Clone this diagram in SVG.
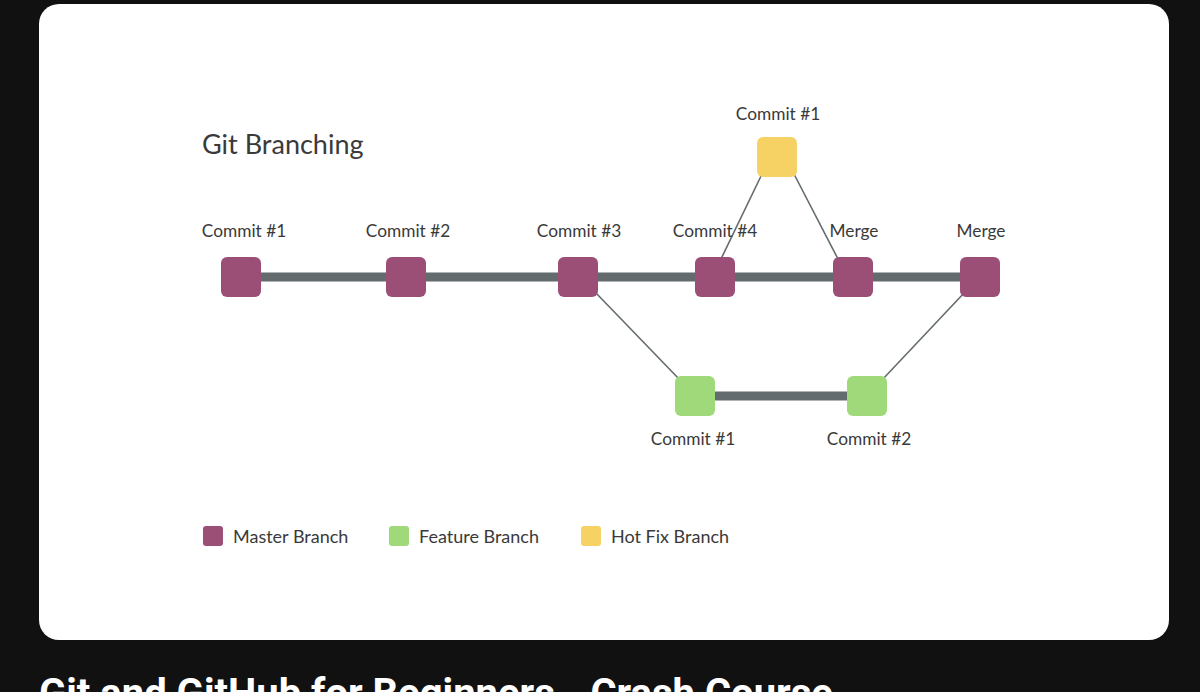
<svg xmlns="http://www.w3.org/2000/svg" width="1200" height="692" viewBox="0 0 1200 692">
<defs>
<style>
.lbl{font-family:"Lato","Noto Sans","Liberation Sans",sans-serif;font-size:17.3px;fill:#3a3a3a;text-anchor:middle}
.leg{font-family:"Lato","Noto Sans","Liberation Sans",sans-serif;font-size:18px;fill:#3a3a3a}
.master{fill:#9b4f76}
.feature{fill:#9fd97a}
.hotfix{fill:#f6d264}
.thick{stroke:#646b6e;stroke-width:9;fill:none}
.thin{stroke:#646b6e;stroke-width:1.6;fill:none}
</style>
</defs>
<rect x="0" y="0" width="1200" height="692" fill="#111111"/>
<rect x="39" y="4" width="1130" height="636" rx="20" fill="#ffffff"/>
<text x="202" y="154" font-family="Lato,'Noto Sans','Liberation Sans',sans-serif" font-size="27" fill="#3a3a3a">Git Branching</text>
<g id="connectors">
<line class="thick" x1="241" y1="277" x2="980" y2="277"/>
<line class="thick" x1="695" y1="396" x2="867" y2="396"/>
<line class="thin" x1="762" y1="174" x2="721" y2="259"/>
<line class="thin" x1="794" y1="174" x2="838" y2="259"/>
<line class="thin" x1="595" y1="292" x2="680" y2="380"/>
<line class="thin" x1="882" y1="380" x2="965" y2="292"/>
</g>
<g id="m1"><rect class="master" x="221" y="257" width="40" height="40" rx="6"/><text class="lbl" x="244" y="237">Commit #1</text></g>
<g id="m2"><rect class="master" x="386" y="257" width="40" height="40" rx="6"/><text class="lbl" x="408" y="237">Commit #2</text></g>
<g id="m3"><rect class="master" x="558" y="257" width="40" height="40" rx="6"/><text class="lbl" x="579" y="237">Commit #3</text></g>
<g id="m4"><rect class="master" x="695" y="257" width="40" height="40" rx="6"/><text class="lbl" x="715" y="237">Commit #4</text></g>
<g id="m5"><rect class="master" x="833" y="257" width="40" height="40" rx="6"/><text class="lbl" x="854" y="237">Merge</text></g>
<g id="m6"><rect class="master" x="960" y="257" width="40" height="40" rx="6"/><text class="lbl" x="981" y="237">Merge</text></g>
<g id="h1"><rect class="hotfix" x="757" y="137" width="40" height="40" rx="6"/><text class="lbl" x="778" y="120">Commit #1</text></g>
<g id="f1"><rect class="feature" x="675" y="376" width="40" height="40" rx="6"/><text class="lbl" x="693" y="445">Commit #1</text></g>
<g id="f2"><rect class="feature" x="847" y="376" width="40" height="40" rx="6"/><text class="lbl" x="869" y="445">Commit #2</text></g>
<g id="legend">
<rect class="master" x="203" y="526" width="20" height="20" rx="3"/><text class="leg" x="233" y="543">Master Branch</text>
<rect class="feature" x="389" y="526" width="20" height="20" rx="3"/><text class="leg" x="419" y="543">Feature Branch</text>
<rect class="hotfix" x="581" y="526" width="20" height="20" rx="3"/><text class="leg" x="611" y="543">Hot Fix Branch</text>
</g>
<text x="39" y="707" font-family="Roboto,'Liberation Sans',sans-serif" font-weight="bold" font-size="40" fill="#ffffff">Git and GitHub for Beginners - Crash Course</text>
</svg>
